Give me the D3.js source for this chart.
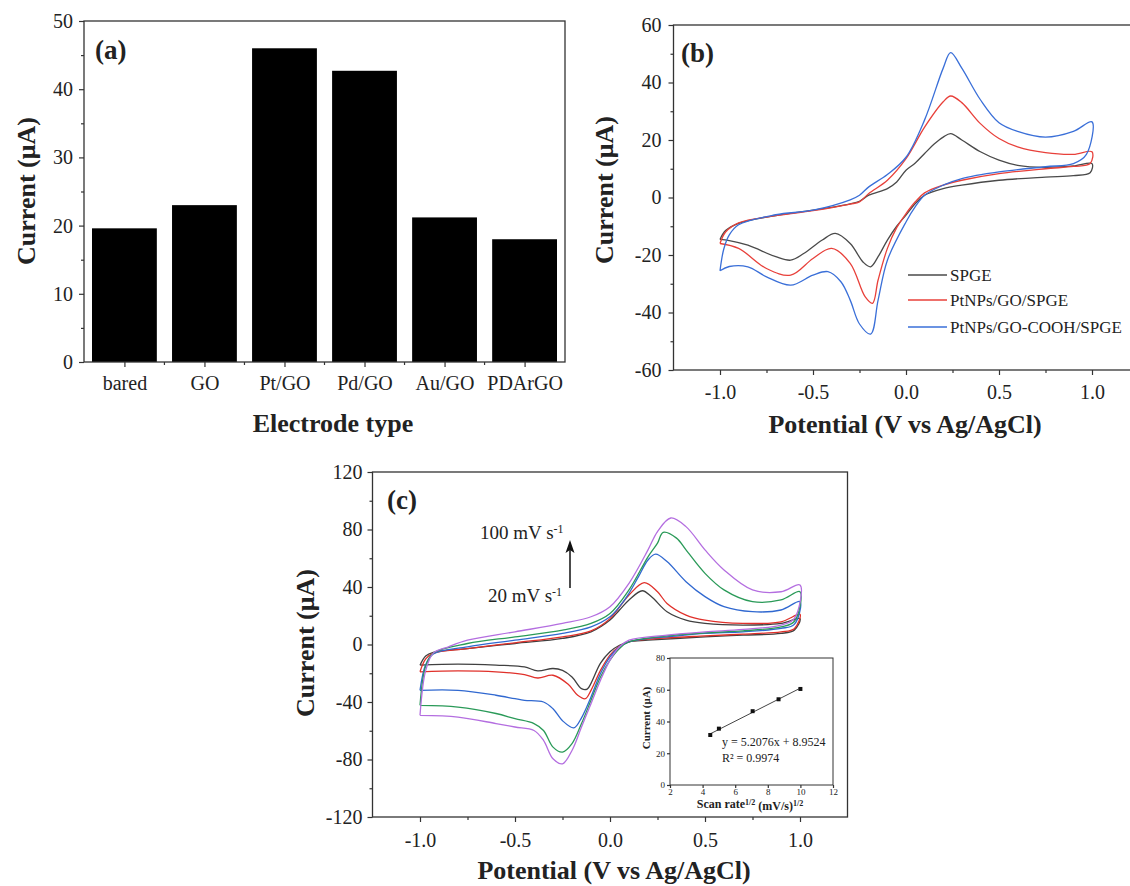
<!DOCTYPE html>
<html><head><meta charset="utf-8">
<script src="https://cdn.jsdelivr.net/npm/d3@7"></script>
<style>body{margin:0;background:#fff}svg{display:block}</style>
</head><body><svg id="chart" width="1130" height="886"></svg>
<script>
// ---------- DATA ----------
// Panel (a)
const electrodeTypes = ["bared","GO","Pt/GO","Pd/GO","Au/GO","PDArGO"];
const electrodeCurrents = [19.6, 23.0, 46.0, 42.7, 21.2, 18.0];
const aYTicks = [0,10,20,30,40,50];
const aYMinor = [5,15,25,35,45];

// Panel (b) CV curves: [potential V, current µA], forward then reverse scan
const bSeriesNames = ["SPGE","PtNPs/GO/SPGE","PtNPs/GO-COOH/SPGE"];
const bSPGE = [[-1.0,-14.6],[-0.97,-11.5],[-0.9,-9],[-0.7,-6.3],[-0.5,-4.4],[-0.3,-2.2],[-0.25,-1.3],[-0.2,0.8],[-0.1,3.1],[-0.05,5.4],[0.0,9.5],[0.05,12],[0.1,15.3],[0.15,18.5],[0.2,21],[0.24,22.2],[0.3,20],[0.4,15.9],[0.5,13],[0.6,11.2],[0.75,10.5],[0.9,11],[1.0,11.8],
  [0.99,8.6],[0.9,7.6],[0.75,7.1],[0.5,6],[0.3,4.3],[0.2,3.1],[0.1,0.8],[0.05,-2.1],[0.0,-6.1],[-0.05,-10],[-0.1,-14.8],[-0.15,-20.6],[-0.19,-24.1],[-0.23,-22.5],[-0.3,-16],[-0.38,-12.5],[-0.45,-14.8],[-0.55,-19.5],[-0.62,-21.8],[-0.7,-20.6],[-0.85,-16.6],[-0.95,-15],[-1.0,-14.6]];
const bPtGO = [[-1.0,-16],[-0.97,-12],[-0.9,-8.8],[-0.7,-6.3],[-0.5,-4.6],[-0.3,-2.3],[-0.25,-1.5],[-0.2,1.4],[-0.1,6],[0.0,13.5],[0.1,24.5],[0.2,33.3],[0.24,35.3],[0.3,33],[0.4,25.7],[0.5,20.5],[0.6,17.6],[0.75,15.6],[0.9,15],[1.0,15.9],
  [0.99,11.8],[0.9,10.8],[0.75,10],[0.5,8.3],[0.3,6],[0.2,4.3],[0.1,1.6],[0.05,-1.5],[0.0,-5.6],[-0.05,-10.5],[-0.1,-17.7],[-0.15,-28.7],[-0.18,-36.8],[-0.22,-34.5],[-0.3,-22.9],[-0.4,-17.7],[-0.5,-21.2],[-0.62,-27],[-0.75,-24.7],[-0.9,-17.7],[-1.0,-16]];
const bPtGOCOOH = [[-1.0,-25.5],[-0.98,-18],[-0.95,-13],[-0.9,-9.5],[-0.7,-6],[-0.5,-4.4],[-0.3,-0.8],[-0.25,0.8],[-0.2,3.7],[-0.1,8],[0.0,14],[0.1,27],[0.2,45],[0.24,50.4],[0.3,45],[0.4,34],[0.5,26],[0.6,23],[0.75,21],[0.9,23],[1.0,26.3],
  [0.97,15],[0.9,11.8],[0.75,10.7],[0.5,8.9],[0.3,6.6],[0.2,4.3],[0.1,0.8],[0.05,-3.2],[0.0,-8.5],[-0.1,-21.8],[-0.15,-35.7],[-0.19,-47.5],[-0.25,-44],[-0.3,-35.7],[-0.35,-29.3],[-0.42,-25.8],[-0.5,-27],[-0.62,-30.5],[-0.75,-27.6],[-0.85,-24.1],[-0.95,-24],[-1.0,-25.5]];
const bYTicks = [-60,-40,-20,0,20,40,60];
const bYMinor = [-50,-30,-10,10,30,50];
const vTicks = [-1.0,-0.5,0.0,0.5,1.0];
const vMinor = [-0.75,-0.25,0.25,0.75];

// Panel (c) CV curves at different scan rates
const cRate20 = [[-1.0,-14.4],[-0.97,-8],[-0.93,-5.5],[-0.75,-2.8],[-0.5,0.7],[-0.25,4.2],[-0.1,8.8],[0.0,17],[0.05,24],[0.1,31],[0.17,37.4],[0.22,33],[0.3,22.8],[0.4,17],[0.5,14.7],[0.7,13.5],[0.9,14.7],[1.0,18],
  [0.97,10],[0.9,7.7],[0.7,6.5],[0.5,5.3],[0.2,3],[0.1,1.9],[0.05,-0.5],[0.0,-5],[-0.05,-13],[-0.1,-27],[-0.12,-31],[-0.15,-30.7],[-0.2,-22.6],[-0.25,-18],[-0.3,-16.7],[-0.38,-18.4],[-0.45,-15.6],[-0.6,-14.4],[-0.8,-13.7],[-1.0,-14.4]];
const cRate25 = [[-1.0,-19],[-0.97,-10],[-0.93,-6],[-0.75,-2.8],[-0.5,1.2],[-0.25,5.3],[-0.1,9.5],[0.0,18],[0.05,26],[0.1,34.4],[0.18,43],[0.25,36.7],[0.3,28.6],[0.4,20.5],[0.5,17],[0.7,14.7],[0.9,15.8],[1.0,21],
  [0.97,11],[0.9,8.8],[0.7,7.2],[0.5,6],[0.2,3.7],[0.1,1.9],[0.05,-1.2],[0.0,-7.4],[-0.05,-18],[-0.1,-31.9],[-0.13,-37.7],[-0.17,-35.3],[-0.22,-27.7],[-0.3,-21.4],[-0.38,-23.3],[-0.45,-20.9],[-0.6,-19],[-0.8,-18.4],[-1.0,-19]];
const cRate50 = [[-1.0,-31.9],[-0.97,-14],[-0.93,-6.5],[-0.75,-1.6],[-0.5,3],[-0.25,7.7],[-0.1,12.3],[0.0,19.3],[0.05,26.3],[0.1,35.6],[0.15,47.2],[0.2,58.8],[0.24,62.8],[0.3,57.7],[0.4,43.7],[0.5,33.3],[0.6,26.3],[0.75,22.8],[0.9,24],[1.0,29.8],
  [0.97,14],[0.9,11.2],[0.7,8.8],[0.5,7.7],[0.3,5.3],[0.2,4.2],[0.1,1.9],[0.05,-1.6],[0.0,-8.6],[-0.05,-20.2],[-0.1,-36.5],[-0.15,-51],[-0.19,-58],[-0.25,-53],[-0.3,-44.7],[-0.35,-40],[-0.45,-38.8],[-0.5,-37.7],[-0.6,-35.3],[-0.8,-31.9],[-1.0,-31.9]];
const cRate75 = [[-1.0,-42.3],[-0.97,-15],[-0.93,-6],[-0.75,0.7],[-0.5,5.3],[-0.25,10],[-0.1,14.7],[0.0,21.6],[0.1,38],[0.2,61],[0.25,70.5],[0.28,78],[0.35,74],[0.4,65.8],[0.5,49.5],[0.6,38],[0.75,29.8],[0.9,31],[1.0,36.7],
  [0.97,16],[0.9,12.3],[0.7,9.5],[0.5,8.1],[0.3,6],[0.1,1.9],[0.05,-2.8],[0.0,-10.9],[-0.05,-22.6],[-0.1,-38.8],[-0.15,-55],[-0.2,-69],[-0.25,-74.9],[-0.3,-71.4],[-0.35,-59.8],[-0.4,-55],[-0.5,-51.6],[-0.6,-48],[-0.8,-43.5],[-1.0,-42.3]];
const cRate100 = [[-1.0,-49.3],[-0.97,-18],[-0.93,-6],[-0.85,-1.6],[-0.75,3],[-0.5,8.8],[-0.25,14.7],[-0.1,19.3],[0.0,26.3],[0.1,42.6],[0.2,65.8],[0.25,78.6],[0.32,88],[0.4,82],[0.5,65.8],[0.6,51.9],[0.75,38],[0.9,36.7],[1.0,41.4],
  [0.97,18],[0.9,13.5],[0.7,10.5],[0.5,8.8],[0.3,6.5],[0.1,3],[0.05,-1.6],[0.0,-10.9],[-0.05,-24.9],[-0.1,-41.2],[-0.15,-57.4],[-0.2,-73.7],[-0.25,-83],[-0.3,-79.5],[-0.35,-66.7],[-0.4,-59.8],[-0.5,-57.4],[-0.6,-55],[-0.8,-50.5],[-1.0,-49.3]];
const cYTicks = [-120,-80,-40,0,40,80,120];
const cYMinor = [-100,-60,-20,20,60,100];

// Inset: peak current vs square root of scan rate
const scanRateSqrt = [4.47, 5.0, 7.07, 8.66, 10.0];
const peakCurrent = [31.5, 35.5, 46.5, 54.0, 60.5];
const fitSlope = 5.2076, fitIntercept = 8.9524;
const insetXTicks = [2,4,6,8,10,12];
const insetYTicks = [0,20,40,60,80];

// ---------- DRAWING ----------
const FONT = '"Liberation Serif","Times New Roman",serif';
const INK = "#222";
const svg = d3.select("#chart");

function styleAxis(s, fs) {
  s.attr("font-family", FONT).attr("font-size", fs);
  s.select(".domain").remove();
  s.selectAll("line").attr("stroke", "#333").attr("stroke-width", 1.2);
  s.selectAll("text").attr("fill", INK);
}
function leftAxis(g, y, x0, major, minor, pad, fs, tl) {
  tl = tl || 5;
  if (minor) g.append("g").attr("transform", `translate(${x0},0)`)
    .call(d3.axisLeft(y).tickValues(minor).tickSize(tl*0.6).tickFormat(""))
    .call(s => styleAxis(s, fs));
  g.append("g").attr("transform", `translate(${x0},0)`)
    .call(d3.axisLeft(y).tickValues(major).tickSize(tl).tickPadding(pad).tickFormat(d => String(d)))
    .call(s => styleAxis(s, fs));
}
function bottomAxis(g, x, y0, major, minor, pad, fs, fmt, tl) {
  tl = tl || 5;
  if (minor) g.append("g").attr("transform", `translate(0,${y0})`)
    .call(d3.axisBottom(x).tickValues(minor).tickSize(tl*0.6).tickFormat(""))
    .call(s => styleAxis(s, fs));
  g.append("g").attr("transform", `translate(0,${y0})`)
    .call(d3.axisBottom(x).tickValues(major).tickSize(tl).tickPadding(pad).tickFormat(fmt))
    .call(s => styleAxis(s, fs));
}
function frame(g, x0, y0, x1, y1, sw) {
  g.append("rect").attr("x", x0).attr("y", y0).attr("width", x1 - x0).attr("height", y1 - y0)
    .attr("fill", "none").attr("stroke", "#333").attr("stroke-width", sw || 1.3);
}
function label(g, txt, x, y, fs, opts) {
  opts = opts || {};
  const t = g.append("text").attr("x", x).attr("y", y).attr("font-family", FONT)
    .attr("font-size", fs).attr("fill", INK).attr("text-anchor", opts.anchor || "start")
    .attr("dy", "0.35em").attr("font-weight", opts.bold ? "bold" : "normal").text(txt);
  if (opts.rotate) t.attr("transform", `rotate(-90,${x},${y})`);
  return t;
}

// ---- Panel (a) ----
const ga = svg.append("g");
const aL = 84, aR = 565, aT = 21, aB = 362;
const ax = d3.scaleBand().domain(electrodeTypes).range([aL, aR]).paddingInner(0.19).paddingOuter(0.1);
const ay = d3.scaleLinear().domain([0, 50]).range([aB, aT]);
ga.selectAll("rect.bar").data(electrodeTypes).join("rect").attr("class", "bar")
  .attr("x", d => ax(d)).attr("width", ax.bandwidth())
  .attr("y", (d, i) => ay(electrodeCurrents[i])).attr("height", (d, i) => ay(0) - ay(electrodeCurrents[i]))
  .attr("fill", "#000");
frame(ga, aL, aT, aR, aB);
leftAxis(ga, ay, aL, aYTicks, aYMinor, 6, 20);
// category axis
const aCenters = electrodeTypes.map(d => ax(d) + ax.bandwidth() / 2);
const axPos = d3.scaleOrdinal().domain(electrodeTypes).range(aCenters);
const aMid = aCenters.slice(1).map((c, i) => (c + aCenters[i]) / 2);
ga.append("g").selectAll("line").data(aMid).join("line")
  .attr("x1", d => d).attr("x2", d => d).attr("y1", aB).attr("y2", aB + 3)
  .attr("stroke", "#333").attr("stroke-width", 1.2);
ga.append("g").attr("transform", `translate(0,${aB})`)
  .call(d3.axisBottom(axPos).tickSize(5).tickPadding(9))
  .call(s => styleAxis(s, 20));
label(ga, "(a)", 95, 50, 27, {bold: true});
label(ga, "Current (\u03BCA)", 26, 191, 26, {bold: true, anchor: "middle", rotate: true});
label(ga, "Electrode type", 333, 423, 26, {bold: true, anchor: "middle"});

// ---- Panel (b) ----
const gb = svg.append("g");
const bL = 673.5, bR = 1138.5, bT = 25, bB = 370;
const bx = d3.scaleLinear().domain([-1.25, 1.25]).range([bL, bR]);
const by = d3.scaleLinear().domain([-60, 60]).range([bB, bT]);
const bLine = d3.line().x(d => bx(d[0])).y(d => by(d[1])).curve(d3.curveCatmullRom.alpha(0.5));
const bColors = ["#4a4a4a", "#e8403a", "#3a6fd8"];
[bSPGE, bPtGO, bPtGOCOOH].forEach((s, i) => {
  gb.append("path").attr("d", bLine(s)).attr("fill", "none")
    .attr("stroke", bColors[i]).attr("stroke-width", 1.3);
});
frame(gb, bL, bT, bR, bB);
leftAxis(gb, by, bL, bYTicks, bYMinor, 7, 20);
bottomAxis(gb, bx, bB, vTicks, vMinor, 10, 20, d => d.toFixed(1));
label(gb, "(b)", 681, 53, 27, {bold: true});
label(gb, "Current (\u03BCA)", 604, 190, 26, {bold: true, anchor: "middle", rotate: true});
label(gb, "Potential (V vs Ag/AgCl)", 905, 424, 26, {bold: true, anchor: "middle"});
const legY = [275, 300, 327];
bSeriesNames.forEach((n, i) => {
  gb.append("line").attr("x1", 908).attr("x2", 947).attr("y1", legY[i]).attr("y2", legY[i])
    .attr("stroke", bColors[i]).attr("stroke-width", 1.3);
  label(gb, n, 950, legY[i], 17);
});

// ---- Panel (c) ----
const gc = svg.append("g");
const cL = 372.5, cR = 847.5, cT = 472, cB = 817;
const cx = d3.scaleLinear().domain([-1.25, 1.25]).range([cL, cR]);
const cy = d3.scaleLinear().domain([-120, 120]).range([cB, cT]);
const cLine = d3.line().x(d => cx(d[0])).y(d => cy(d[1])).curve(d3.curveCatmullRom.alpha(0.5));
const cColors = ["#404040", "#e0302a", "#3068d0", "#2a9a58", "#b46ee0"];
[cRate20, cRate25, cRate50, cRate75, cRate100].forEach((s, i) => {
  gc.append("path").attr("d", cLine(s)).attr("fill", "none")
    .attr("stroke", cColors[i]).attr("stroke-width", 1.3);
});
frame(gc, cL, cT, cR, cB);
leftAxis(gc, cy, cL, cYTicks, cYMinor, 5, 20);
bottomAxis(gc, cx, cB, vTicks, vMinor, 11, 20, d => d.toFixed(1));
label(gc, "(c)", 387, 500, 27, {bold: true});
label(gc, "Current (\u03BCA)", 305, 643, 26, {bold: true, anchor: "middle", rotate: true});
label(gc, "Potential (V vs Ag/AgCl)", 614, 870, 26, {bold: true, anchor: "middle"});

// scan-rate annotation
function rateText(txt, x, y) {
  const t = gc.append("text").attr("x", x).attr("y", y).attr("font-family", FONT)
    .attr("font-size", 19).attr("fill", INK).attr("dy", "0.35em");
  t.append("tspan").text(txt);
  t.append("tspan").attr("dy", "-0.5em").attr("font-size", 12).text("-1");
}
rateText("100 mV s", 480, 532);
rateText("20 mV s", 488, 595);
gc.append("line").attr("x1", 570).attr("x2", 570).attr("y1", 588).attr("y2", 550)
  .attr("stroke", "#111").attr("stroke-width", 1.5);
gc.append("path").attr("d", "M570,540 L565.5,553 L570,550 L574.5,553 Z").attr("fill", "#111");

// ---- Inset ----
const gi = svg.append("g");
const iL = 670, iR = 833, iT = 658, iB = 785;
gi.append("rect").attr("x", iL).attr("y", iT).attr("width", iR - iL).attr("height", iB - iT).attr("fill", "#fff");
const ix = d3.scaleLinear().domain([2, 12]).range([iL, iR]);
const iy = d3.scaleLinear().domain([0, 80]).range([iB, iT]);
gi.append("line").attr("x1", ix(scanRateSqrt[0])).attr("x2", ix(scanRateSqrt[scanRateSqrt.length - 1]))
  .attr("y1", iy(fitSlope * scanRateSqrt[0] + fitIntercept))
  .attr("y2", iy(fitSlope * scanRateSqrt[scanRateSqrt.length - 1] + fitIntercept))
  .attr("stroke", "#444").attr("stroke-width", 1);
gi.selectAll("rect.pt").data(scanRateSqrt).join("rect").attr("class", "pt")
  .attr("x", d => ix(d) - 2).attr("y", (d, i) => iy(peakCurrent[i]) - 2)
  .attr("width", 4).attr("height", 4).attr("fill", "#111");
frame(gi, iL, iT, iR, iB, 1);
leftAxis(gi, iy, iL, insetYTicks, null, 2, 9, 3);
bottomAxis(gi, ix, iB, insetXTicks, null, 1, 9, d => String(d), 3);
label(gi, "Current (\u03BCA)", 646, 718, 11, {bold: true, anchor: "middle", rotate: true});
const ixl = gi.append("text").attr("x", 750).attr("y", 804).attr("text-anchor", "middle")
  .attr("font-family", FONT).attr("font-size", 12).attr("font-weight", "bold").attr("fill", INK).attr("dy", "0.35em");
ixl.append("tspan").text("Scan rate");
ixl.append("tspan").attr("dy", "-0.45em").attr("font-size", 8).text("1/2");
ixl.append("tspan").attr("dy", "0.45em").text(" (mV/s)");
ixl.append("tspan").attr("dy", "-0.45em").attr("font-size", 8).text("1/2");
label(gi, `y = ${fitSlope}x + ${fitIntercept}`, 722, 742, 12);
const r2 = gi.append("text").attr("x", 722).attr("y", 758).attr("dy", "0.35em")
  .attr("font-family", FONT).attr("font-size", 12).attr("fill", INK);
r2.text("R\u00B2 = 0.9974");
</script></body></html>
